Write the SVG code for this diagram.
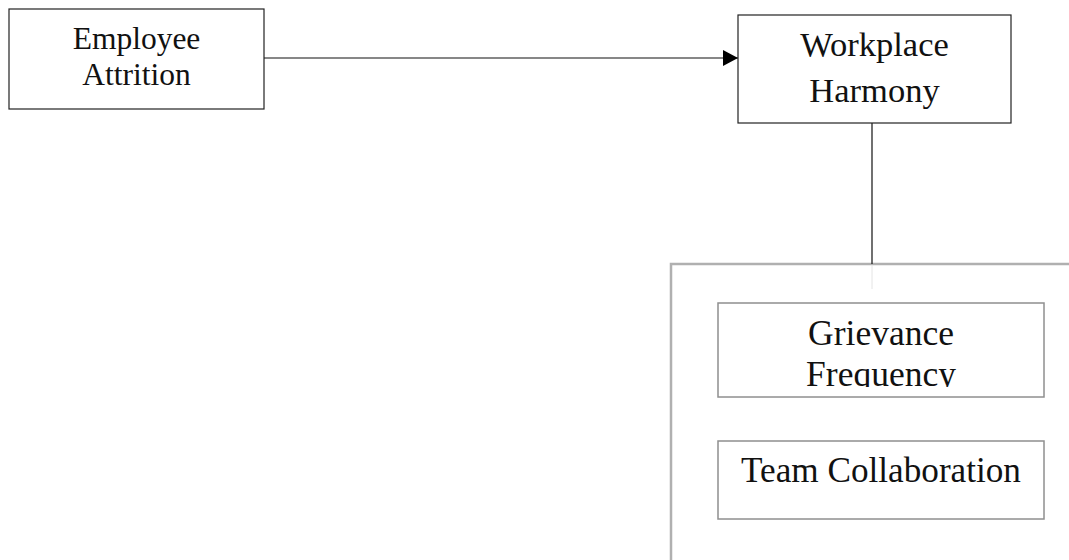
<svg xmlns="http://www.w3.org/2000/svg" width="1069" height="560" viewBox="0 0 1069 560">
<style>
.box{fill:#fff;stroke:#222;stroke-width:1.2}
.gbox{fill:#fff;stroke:#8f8f8f;stroke-width:1.5}
.outer{fill:#fff;stroke:#b0b0b0;stroke-width:2.5}
.t{font-family:"Liberation Serif","Times New Roman",serif;fill:#111;text-anchor:middle}
.line{stroke:#111;stroke-width:1.2;fill:none}
</style>
<defs>
<marker id="arr" markerWidth="15" markerHeight="16" refX="15" refY="8" orient="auto" markerUnits="userSpaceOnUse">
<path d="M0,0 L15,8 L0,16 Z" fill="#000"/>
</marker>
<clipPath id="c1"><rect x="718" y="303" width="326" height="84"/></clipPath>
</defs>
<rect width="1069" height="560" fill="#fff"/>
<g id="group-container">
<rect class="outer" x="671" y="264" width="420" height="320"/>
</g>
<g id="connectors">
<line class="line" x1="264" y1="58" x2="738" y2="58" marker-end="url(#arr)"/>
<line class="line" x1="872" y1="123" x2="872" y2="264"/>
<line x1="872" y1="265" x2="872" y2="289" stroke="#e4e4e4" stroke-width="1"/>
</g>
<g id="node-employee-attrition">
<rect class="box" x="9" y="9" width="255" height="100"/>
<text class="t" x="136.5" y="49" font-size="31.5">Employee</text>
<text class="t" x="136.5" y="85" font-size="31.5">Attrition</text>
</g>
<g id="node-workplace-harmony">
<rect class="box" x="738" y="15" width="273" height="108"/>
<text class="t" x="874.5" y="56" font-size="34.5">Workplace</text>
<text class="t" x="874.5" y="102" font-size="34.5">Harmony</text>
</g>
<g id="node-grievance-frequency">
<rect class="gbox" x="718" y="303" width="326" height="94"/>
<g clip-path="url(#c1)">
<text class="t" x="881" y="345" font-size="35.5" fill="#222">Grievance</text>
<text class="t" x="881" y="386" font-size="35.5" fill="#222">Frequency</text>
</g>
</g>
<g id="node-team-collaboration">
<rect class="gbox" x="718" y="441" width="326" height="78"/>
<text class="t" x="881" y="482" font-size="35.2">Team Collaboration</text>
</g>
</svg>
